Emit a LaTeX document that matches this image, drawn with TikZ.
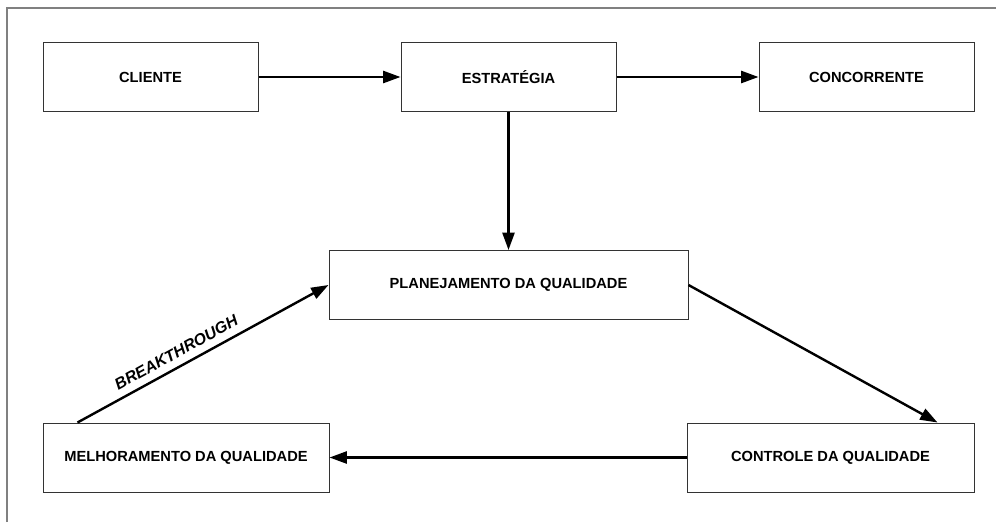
\documentclass[tikz,border=0pt]{standalone}
\usepackage{fontspec}
\setmainfont{Liberation Sans}
\usepackage{tikz}
\usetikzlibrary{arrows.meta}

\begin{document}
\begin{tikzpicture}[x=0.75pt,y=-0.75pt,
  caixa/.style={draw=black!80,line width=0.75pt,inner sep=0pt,minimum height=51.75pt,
    font=\fontsize{11}{13}\selectfont\bfseries,align=center},
  seta/.style={line width=1.8pt,-{Triangle[length=13pt,width=9pt]}}]
\useasboundingbox (0,0) rectangle (996,522);
\draw[gray,line width=1.1pt] (7,522) -- (7,8) -- (996,8);
\node[caixa,minimum width=161.25pt] (cliente) at (150.5,77) {CLIENTE};
\node[caixa,minimum width=161.25pt] (estrategia) at (508.5,77) {ESTRATÉGIA};
\node[caixa,minimum width=161.25pt] (concorrente) at (866.5,77) {CONCORRENTE};
\node[caixa,minimum width=269.25pt] (planejamento) at (508.5,285) {PLANEJAMENTO DA QUALIDADE};
\node[caixa,minimum width=214.5pt] (melhoramento) at (186,457.5) {MELHORAMENTO DA QUALIDADE};
\node[caixa,minimum width=215.25pt] (controle) at (830.5,457.5) {CONTROLE DA QUALIDADE};
\draw[seta] (cliente) -- (estrategia);
\draw[seta] (estrategia) -- (concorrente);
\draw[seta] (estrategia) -- (planejamento);
\draw[seta] (planejamento.east) -- ([xshift=-27.75pt]controle.north east);
\draw[seta] (controle) -- (melhoramento);
\draw[seta] ([xshift=26.25pt]melhoramento.north west) -- (planejamento.west)
  node[pos=0.42,above=2pt,sloped,font=\fontsize{12}{14}\selectfont\bfseries\itshape] {BREAKTHROUGH};
\end{tikzpicture}
\end{document}
